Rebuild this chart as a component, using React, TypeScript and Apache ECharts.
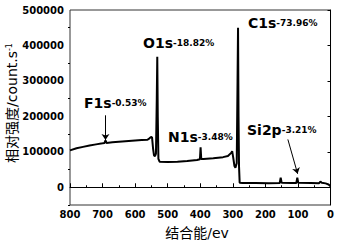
import React, { useEffect, useRef } from "react";
import * as echarts from "echarts";

const spectrum: [number, number][] = [
  [800, 104000], [780, 110000], [760, 114000], [740, 118000], [720, 121000],
  [700, 124000], [694, 125000], [691, 132000], [688, 125000], [670, 127000],
  [640, 129000], [610, 131000], [580, 133000], [562, 134000], [556, 138000],
  [551, 142000], [548, 140000], [545, 110000], [542, 90000], [539, 88000],
  [536, 95000], [533.5, 250000], [532, 368000], [530.5, 200000], [528.5, 80000],
  [525, 72000], [500, 71000], [470, 72000], [440, 74000], [410, 77000],
  [401, 79000], [399, 113000], [397, 80000], [390, 80000], [360, 82000],
  [330, 85000], [315, 88000], [305, 97000], [302, 102000], [299, 85000],
  [295, 60000], [292, 55000], [288, 68000], [285.5, 300000], [284, 450000],
  [282.5, 200000], [281, 60000], [279, 13000], [270, 12000], [230, 12000],
  [190, 11500], [156, 12000], [153, 27000], [150, 12500], [120, 12000],
  [105, 12000], [102, 27000], [99, 12500], [60, 12000], [35, 11500],
  [31, 16000], [27, 13000], [15, 11000], [6, 8000], [0, 3000],
];

const yLabelValues = [0, 100000, 200000, 300000, 400000, 500000];
const yMinorValues = [-50000, 50000, 150000, 250000, 350000, 450000];

const annotations = [
  { name: "F1s", pct: "-0.53%", x: 84, y: 103 },
  { name: "O1s", pct: "-18.82%", x: 143, y: 43 },
  { name: "C1s", pct: "-73.96%", x: 248, y: 23 },
  { name: "N1s", pct: "-3.48%", x: 168, y: 137 },
  { name: "Si2p", pct: "-3.21%", x: 247, y: 130 },
];

const arrows: [[number, number], [number, number]][] = [
  [[691, 203000], [691, 133000]],
  [[131, 135000], [101, 38000]],
];

const FONT = "DejaVu Sans, Noto Sans CJK SC, sans-serif";

export default function App() {
  const ref = useRef<HTMLDivElement>(null);
  useEffect(() => {
    if (!ref.current) return;
    const chart = echarts.init(ref.current, null, { renderer: "svg" });
    chart.setOption({
      animation: false,
      backgroundColor: "#fff",
      grid: {
        left: 70, right: 5, top: 10, bottom: 40,
        show: true, borderColor: "#333", borderWidth: 1,
      },
      xAxis: {
        type: "value", min: 0, max: 800, interval: 100, inverse: true,
        axisLine: { lineStyle: { color: "#000", width: 1 } },
        axisTick: { inside: true, length: 4, lineStyle: { color: "#000" } },
        minorTick: { show: true, splitNumber: 2, length: 2, lineStyle: { color: "#000" } },
        splitLine: { show: false },
        axisLabel: { color: "#000", fontSize: 10, fontWeight: "bold", fontFamily: FONT, margin: 4 },
      },
      yAxis: [
        {
          type: "value", min: -50000, max: 500000,
          axisLine: { show: true, lineStyle: { color: "#000", width: 1 } },
          axisTick: { show: true, length: 3, customValues: yLabelValues, lineStyle: { color: "#000" } },
          axisLabel: {
            color: "#000", fontSize: 10, fontWeight: "bold", fontFamily: FONT, margin: 6,
            customValues: yLabelValues,
            formatter: (v: number) => String(v),
          },
          splitLine: { show: false },
        },
        {
          type: "value", min: -50000, max: 500000, position: "left",
          axisLine: { show: false },
          axisTick: { show: true, length: 2, customValues: yMinorValues, lineStyle: { color: "#000" } },
          axisLabel: { show: false },
          splitLine: { show: false },
        },
      ],
      series: [
        {
          type: "line",
          data: spectrum,
          showSymbol: false,
          lineStyle: { color: "#000", width: 2 },
          markLine: {
            silent: true,
            symbol: ["none", "arrow"],
            symbolSize: 6,
            label: { show: false },
            lineStyle: { color: "#000", width: 1, type: "solid" },
            data: arrows.map(([a, b]) => [{ coord: a }, { coord: b }]),
          },
        },
      ],
      graphic: [
        ...annotations.map((a) => ({
          type: "text",
          x: a.x,
          y: a.y,
          style: {
            text: `{a|${a.name}}{b|${a.pct}}`,
            verticalAlign: "middle",
            rich: {
              a: { fontSize: 14, fontWeight: "bold", fontFamily: FONT, fill: "#000" },
              b: { fontSize: 9, fontWeight: "bold", fontFamily: FONT, fill: "#000" },
            },
          },
        })),
        {
          type: "text",
          x: 12,
          y: 103,
          rotation: Math.PI / 2,
          style: {
            text: "{a|相对强度/count.s}{b|-1}",
            align: "center",
            verticalAlign: "middle",
            rich: {
              a: { fontSize: 14, fontFamily: FONT, fill: "#000" },
              b: { fontSize: 8, fontFamily: FONT, fill: "#000", verticalAlign: "top" },
            },
          },
        },
        {
          type: "text",
          x: 197,
          y: 233,
          style: {
            text: "结合能/ev",
            align: "center",
            verticalAlign: "middle",
            fontSize: 14,
            fontFamily: FONT,
            fill: "#000",
          },
        },
      ],
    });
    return () => chart.dispose();
  }, []);
  return <div ref={ref} style={{ width: 337, height: 245, position: "fixed", left: 0, top: 0 }} />;
}
